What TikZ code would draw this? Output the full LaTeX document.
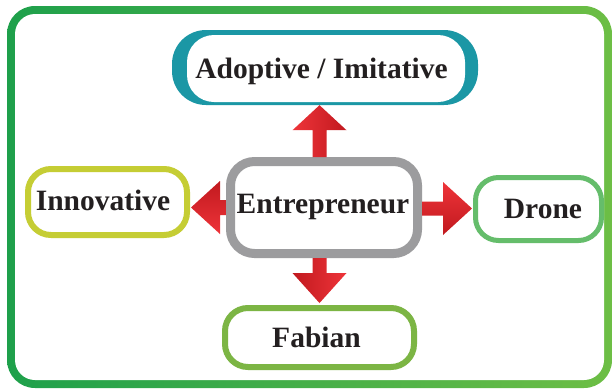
\documentclass[tikz,border=0pt]{standalone}
\usepackage{fontspec}
\setmainfont{Liberation Serif}
\usetikzlibrary{calc}
\definecolor{frameL}{HTML}{1EA04B}
\definecolor{frameR}{HTML}{6DBE45}
\definecolor{adoptTeal}{HTML}{1B97A5}
\definecolor{entGray}{HTML}{9C9C9E}
\definecolor{innoYG}{HTML}{C5CD34}
\definecolor{droneG}{HTML}{65BD6B}
\definecolor{fabG}{HTML}{7CB544}
\definecolor{ink}{HTML}{231F20}
\definecolor{redL}{HTML}{EE3439}
\definecolor{redD}{HTML}{C1191F}
\begin{document}
\begin{tikzpicture}[x=1pt,y=-1pt,
  boxbase/.style={rectangle, fill=white, inner sep=0pt},
  lbl/.style={font=\fontsize{29.5}{34}\selectfont\bfseries, text=ink, anchor=base, inner sep=0pt}]
\useasboundingbox (0,0) rectangle (613,389);
% outer frame
\shade[left color=frameL, right color=frameR, rounded corners=28pt] (7,6) rectangle (612,388);
\fill[white, rounded corners=20pt] (15,14) rectangle (604,380);
% boxes
\node[rectangle, fill=adoptTeal, inner sep=0pt, rounded corners=34pt, minimum width=306pt, minimum height=75pt] (A) at (325,67.5) {};
\node[boxbase, rounded corners=27pt, minimum width=278pt, minimum height=67pt] (Ain) at (326,68.5) {};
\node[boxbase, draw=entGray, line width=9pt, rounded corners=24pt, minimum width=187pt, minimum height=92pt] (E) at (324,207.5) {};
\node[boxbase, draw=innoYG, line width=6pt, rounded corners=23pt, minimum width=159pt, minimum height=66pt] (I) at (107.5,202) {};
\node[boxbase, draw=droneG, line width=5pt, rounded corners=23pt, minimum width=126pt, minimum height=63pt] (D) at (538.5,209) {};
\node[boxbase, draw=fabG, line width=6pt, rounded corners=23pt, minimum width=189pt, minimum height=59pt] (F) at (319.5,337.5) {};
% block arrows
\coordinate (ub) at (E.north -| F.north);
\coordinate (ut) at (A.south -| F.north);
\shade[left color=redL, right color=redD]
  ($(ub)+(-7,0)$) -- ($(ut)+(-7,25)$) -- ($(ut)+(-27,25)$) -- (ut) --
  ($(ut)+(27,25)$) -- ($(ut)+(7,25)$) -- ($(ub)+(7,0)$) -- cycle;
\coordinate (db) at (E.south -| F.north);
\coordinate (dt) at ($(F.north)+(0,-2)$);
\shade[left color=redD, right color=redL]
  ($(db)+(-7,0)$) -- ($(dt)+(-7,-30)$) -- ($(dt)+(-27,-30)$) -- (dt) --
  ($(dt)+(27,-30)$) -- ($(dt)+(7,-30)$) -- ($(db)+(7,0)$) -- cycle;
\coordinate (lb) at (E.west);
\coordinate (lt) at ($(I.east |- E.west)+(1,0)$);
\shade[top color=redD, bottom color=redL]
  ($(lb)+(0,-7.5)$) -- ($(lt)+(29,-7.5)$) -- ($(lt)+(29,-26.5)$) -- (lt) --
  ($(lt)+(29,26.5)$) -- ($(lt)+(29,7.5)$) -- ($(lb)+(0,7.5)$) -- cycle;
\coordinate (rb) at ($(E.east)+(0,1)$);
\coordinate (rt) at ($(D.west |- rb)+(-1,0)$);
\shade[top color=redL, bottom color=redD]
  ($(rb)+(0,-7)$) -- ($(rt)+(-29,-7)$) -- ($(rt)+(-29,-26.5)$) -- (rt) --
  ($(rt)+(-29,26.5)$) -- ($(rt)+(-29,7)$) -- ($(rb)+(0,7)$) -- cycle;
% labels
\node[lbl] (tA) at (321.5,78) {Adoptive / Imitative};
\node[lbl] (tE) at (323,213) {Entrepreneur};
\node[lbl] (tI) at (103,210) {Innovative};
\node[lbl] (tD) at (543,218) {Drone};
\node[lbl] (tF) at (316.5,347) {Fabian};
\end{tikzpicture}
\end{document}
